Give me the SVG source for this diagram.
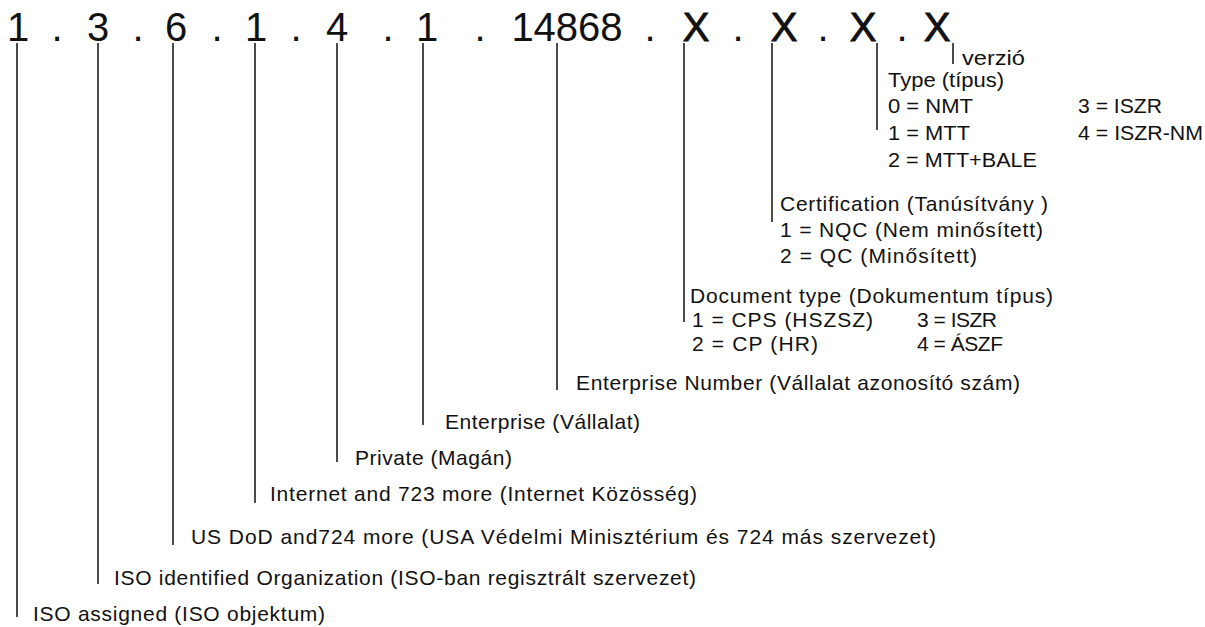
<svg xmlns="http://www.w3.org/2000/svg" width="1205" height="627" viewBox="0 0 1205 627">
<style>
text{font-family:"Liberation Sans",Arial,sans-serif;fill:#111}
.oid{font-size:40px;text-anchor:middle}
.x{stroke:#111;stroke-width:0.9}
.lbl{font-size:21px}
.typ{font-size:19.5px}
.conn line{stroke:#111;stroke-width:1.5}
</style>
<rect width="1205" height="627" fill="#fff"/>
<g id="oid">
<text class="oid" x="18" y="41">1</text>
<text class="oid" x="57" y="41">.</text>
<text class="oid" x="98" y="41">3</text>
<text class="oid" x="138" y="41">.</text>
<text class="oid" x="176" y="41">6</text>
<text class="oid" x="217" y="41">.</text>
<text class="oid" x="256" y="41">1</text>
<text class="oid" x="296" y="41">.</text>
<text class="oid" x="337" y="41">4</text>
<text class="oid" x="388" y="41">.</text>
<text class="oid" x="427" y="41">1</text>
<text class="oid" x="480" y="41">.</text>
<text class="oid" x="567" y="41">14868</text>
<text class="oid" x="650" y="41">.</text>
<text class="oid x" x="696" y="41">X</text>
<text class="oid" x="738" y="41">.</text>
<text class="oid x" x="784" y="41">X</text>
<text class="oid" x="823" y="41">.</text>
<text class="oid x" x="863" y="41">X</text>
<text class="oid" x="902" y="41">.</text>
<text class="oid x" x="937" y="41">X</text>
</g>
<g class="conn" id="connectors">
<line x1="17" y1="43" x2="17" y2="617"/>
<line x1="98" y1="43" x2="98" y2="584"/>
<line x1="173" y1="43" x2="173" y2="545"/>
<line x1="255" y1="43" x2="255" y2="503"/>
<line x1="337" y1="43" x2="337" y2="462"/>
<line x1="423" y1="43" x2="423" y2="425"/>
<line x1="557" y1="43" x2="557" y2="390"/>
<line x1="684" y1="43" x2="684" y2="322"/>
<line x1="772" y1="43" x2="772" y2="222"/>
<line x1="877" y1="43" x2="877" y2="130"/>
<line x1="953" y1="43" x2="953" y2="64"/>
</g>
<g id="version"><text class="typ" x="962" y="65" textLength="63" lengthAdjust="spacingAndGlyphs">verzió</text></g>
<g id="type">
<text class="typ" x="888" y="87" textLength="116" lengthAdjust="spacingAndGlyphs">Type (típus)</text>
<text class="typ" x="888" y="113" textLength="85" lengthAdjust="spacingAndGlyphs">0 = NMT</text>
<text class="typ" x="1078" y="113" textLength="84" lengthAdjust="spacingAndGlyphs">3 = ISZR</text>
<text class="typ" x="888" y="140" textLength="82" lengthAdjust="spacingAndGlyphs">1 = MTT</text>
<text class="typ" x="1078" y="140" textLength="125" lengthAdjust="spacingAndGlyphs">4 = ISZR-NM</text>
<text class="typ" x="888" y="167" textLength="149" lengthAdjust="spacingAndGlyphs">2 = MTT+BALE</text>
</g>
<g id="certification">
<text class="lbl" x="780" y="211" textLength="268" lengthAdjust="spacing">Certification (Tanúsítvány )</text>
<text class="lbl" x="780" y="237" textLength="263" lengthAdjust="spacing">1 = NQC (Nem minősített)</text>
<text class="lbl" x="780" y="263" textLength="197" lengthAdjust="spacing">2 = QC (Minősített)</text>
</g>
<g id="doctype">
<text class="lbl" x="690" y="303" textLength="363" lengthAdjust="spacing">Document type (Dokumentum típus)</text>
<text class="lbl" x="692" y="327" textLength="181" lengthAdjust="spacing">1 = CPS (HSZSZ)</text>
<text class="lbl" x="917" y="327" textLength="80" lengthAdjust="spacing">3 = ISZR</text>
<text class="lbl" x="692" y="351" textLength="126" lengthAdjust="spacing">2 = CP (HR)</text>
<text class="lbl" x="917" y="351" textLength="86" lengthAdjust="spacing">4 = ÁSZF</text>
</g>
<g id="enterprise-number"><text class="lbl" x="576" y="390" textLength="444" lengthAdjust="spacing">Enterprise Number (Vállalat azonosító szám)</text></g>
<g id="enterprise"><text class="lbl" x="445" y="429" textLength="195" lengthAdjust="spacing">Enterprise (Vállalat)</text></g>
<g id="private"><text class="lbl" x="355" y="465" textLength="157" lengthAdjust="spacing">Private (Magán)</text></g>
<g id="internet"><text class="lbl" x="270" y="501" textLength="427" lengthAdjust="spacing">Internet and 723 more (Internet Közösség)</text></g>
<g id="usdod"><text class="lbl" x="191" y="544" textLength="745" lengthAdjust="spacing">US DoD and724 more (USA Védelmi Minisztérium és 724 más szervezet)</text></g>
<g id="iso-identified"><text class="lbl" x="114" y="585" textLength="582" lengthAdjust="spacing">ISO identified Organization (ISO-ban regisztrált szervezet)</text></g>
<g id="iso-assigned"><text class="lbl" x="33" y="621" textLength="292" lengthAdjust="spacing">ISO assigned (ISO objektum)</text></g>
</svg>
